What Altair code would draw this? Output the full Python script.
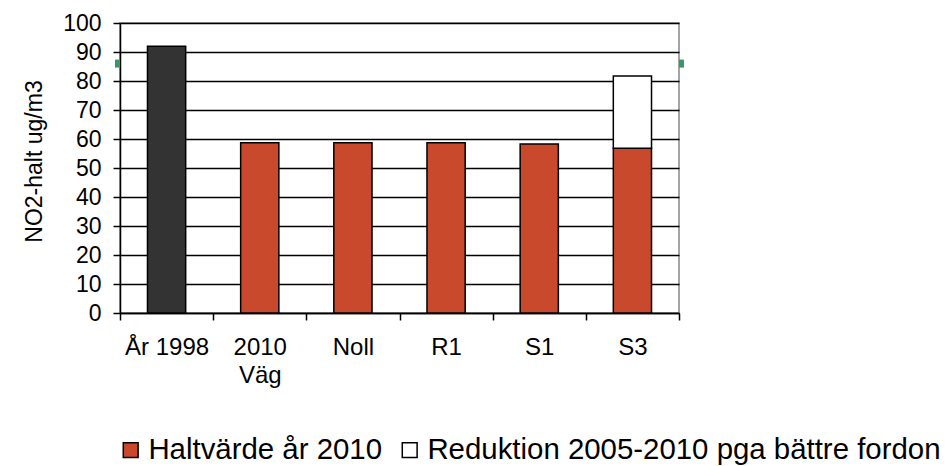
import altair as alt
import pandas as pd

# Categories along the x axis
categories = ["År 1998", "2010 Väg", "Noll", "R1", "S1", "S3"]

# NO2 concentration (ug/m3) per category
halt_values = [92.0, 58.7, 58.7, 58.7, 58.3, 56.8]
# Extra reduction stacked on top (only S3 has it)
reduktion_values = [0.0, 0.0, 0.0, 0.0, 0.0, 24.9]

# Series labels
series_halt = "Haltvärde år 2010"
series_red = "Reduktion 2005-2010 pga bättre fordon"
series_1998 = "Uppmätt 1998"

# Reference level shown as small green markers at the axis edges
limit_values = [86.0]

y_ticks = [0, 10, 20, 30, 40, 50, 60, 70, 80, 90, 100]

FONT = "Liberation Sans"
W, H = 559, 290

rows = []
for i, cat in enumerate(categories):
    s = series_1998 if cat == "År 1998" else series_halt
    rows.append({"kategori": cat, "serie": s, "varde": halt_values[i], "ordning": 0})
    if reduktion_values[i] > 0:
        rows.append({"kategori": cat, "serie": series_red, "varde": reduktion_values[i], "ordning": 1})
df = pd.DataFrame(rows)

x_enc = alt.X(
    "kategori:N",
    sort=categories,
    title=None,
    scale=alt.Scale(paddingInner=0, paddingOuter=0),
    axis=alt.Axis(
        labelAngle=0,
        labelFont=FONT,
        labelFontSize=24,
        labelColor="#000000",
        labelPadding=15,
        labelExpr="datum.label == '2010 Väg' ? ['2010', 'Väg'] : datum.label",
        labelLineHeight=28,
        tickBand="extent",
        tickSize=7,
        tickColor="#000000",
        tickWidth=1.5,
        domainColor="#000000",
        domainWidth=1.5,
        grid=False,
    ),
)

y_scale = alt.Scale(domain=[0, 100], nice=False)
y_axis = alt.Axis(
    values=y_ticks,
    labelOverlap=False,
    labelFont=FONT,
    labelFontSize=23,
    labelColor="#000000",
    labelPadding=12,
    tickSize=7,
    tickColor="#000000",
    tickWidth=1.5,
    domainColor="#000000",
    domainWidth=1.5,
    grid=True,
    gridColor="#000000",
    gridWidth=1.3,
    titleFont=FONT,
    titleFontSize=23,
    titleFontWeight="normal",
    titleColor="#000000",
    titlePadding=16,
    titleY=138,
)
Y_TITLE = "NO2-halt ug/m3"

bars = alt.Chart(df).mark_bar(
    stroke="#000000", strokeWidth=1.5, width=alt.RelativeBandSize(0.41)
).encode(
    x=x_enc,
    y=alt.Y("varde:Q", stack="zero", scale=y_scale, title=Y_TITLE, axis=y_axis),
    order=alt.Order("ordning:Q"),
    color=alt.Color(
        "serie:N",
        scale=alt.Scale(
            domain=[series_halt, series_red, series_1998],
            range=["#C8492C", "#FFFFFF", "#333333"],
        ),
        legend=alt.Legend(
            values=[series_halt, series_red],
            title=None,
            orient="none",
            direction="horizontal",
            legendX=-4,
            legendY=412,
            symbolType="square",
            symbolSize=220,
            symbolStrokeColor="#000000",
            symbolStrokeWidth=1.5,
            labelFont=FONT,
            labelFontSize=29.4,
            labelColor="#000000",
            labelLimit=1000,
            labelOffset=3,
            columnPadding=12,
        ),
    ),
)

limit_df = pd.DataFrame({"grans": limit_values})
limit_left = alt.Chart(limit_df).mark_rule(color="#339966", strokeWidth=8).encode(
    y=alt.Y("grans:Q", scale=y_scale, title=Y_TITLE, axis=y_axis),
    x=alt.value(-5),
    x2=alt.value(-1),
)
limit_right = alt.Chart(limit_df).mark_rule(color="#339966", strokeWidth=8).encode(
    y=alt.Y("grans:Q", scale=y_scale, title=Y_TITLE, axis=y_axis),
    x=alt.value(W),
    x2=alt.value(W + 5),
)

chart = (
    alt.layer(bars, limit_left, limit_right)
    .properties(
        width=W,
        height=H,
        autosize=alt.AutoSizeParams(type="none"),
        padding={"left": 120, "top": 23, "right": 950 - 120 - W, "bottom": 466 - 23 - H},
        background="#FFFFFF",
    )
    .configure_view(stroke="#888888", strokeWidth=1.5)
)

chart.save("out.html", embed_options={"renderer": "svg", "actions": False})
